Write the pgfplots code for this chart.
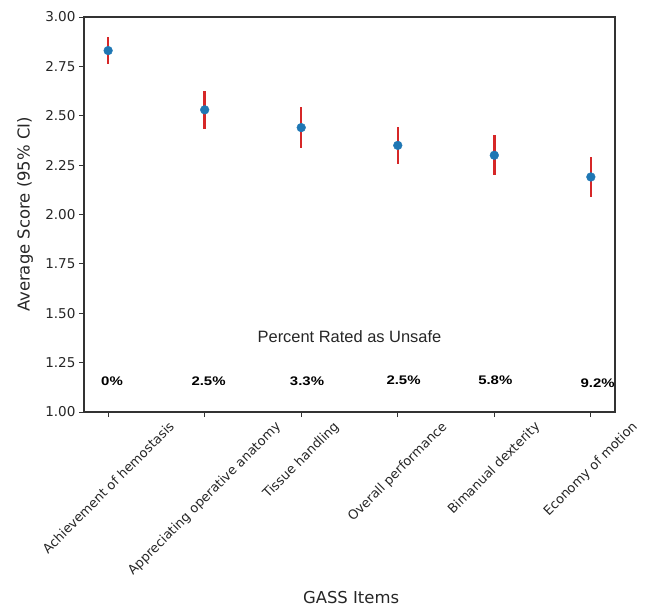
\documentclass[border=0pt]{standalone}
\usepackage{fontspec}
\setmainfont{DejaVu Sans}
\newfontfamily\arialfont{Liberation Sans}
\usepackage{graphicx}
\usepackage{pgfplots}
\pgfplotsset{compat=1.18}
\definecolor{mblue}{HTML}{1F77B4}
\definecolor{mred}{HTML}{D62728}
\definecolor{axgray}{HTML}{333333}

\pgfplotstableread{
x y e
0 2.83 0.067
1 2.53 0.095
2 2.44 0.102
3 2.35 0.095
4 2.30 0.100
5 2.19 0.100
}\scores

\begin{document}
\begin{tikzpicture}
\path[use as bounding box] (-84bp,-196bp) rectangle (563bp,412bp);
\begin{axis}[
  scale only axis, width=531bp, height=395bp,
  xmin=-0.25, xmax=5.25, ymin=1, ymax=3,
  xtick={0,1,2,3,4,5},
  xticklabels={{\rotatebox{45}{Achievement of hemostasis}},
               {\rotatebox{45}{Appreciating operative anatomy}},
               {\rotatebox{45}{Tissue handling}},
               {\rotatebox{45}{Overall performance}},
               {\rotatebox{45}{Bimanual dexterity}},
               {\rotatebox{45}{Economy of motion}}},
  ytick={1.00,1.25,1.50,1.75,2.00,2.25,2.50,2.75,3.00},
  yticklabel style={font=\fontsize{13.6}{16}\selectfont, text=black!85,
    /pgf/number format/.cd, fixed, fixed zerofill, precision=2},
  /pgf/number format/assume math mode=true,
  tick pos=left, tick align=outside,
  major tick length=5bp,
  tick style={axgray, line width=0.9bp},
  axis line style={axgray, line width=1.2bp},
  xticklabel style={anchor=north, font=\fontsize{13}{15}\selectfont, text=black!85},
  xlabel={GASS Items},
  ylabel={Average Score (95\% CI)},
  xlabel style={at={(axis description cs:0.503,-0.470)}, anchor=center, font=\fontsize{16.5}{19}\selectfont, text=black!85},
  ylabel style={at={(axis description cs:-0.111,0.5)}, anchor=center, font=\fontsize{16.5}{19}\selectfont, text=black!85},
]
\addplot[only marks, mark=*, mark size=4.4pt, mark options={fill=mblue, draw=mblue},
  error bars/.cd, y dir=both, y explicit, error mark=none,
  error bar style={line width=2.5bp, mred}]
  table[x=x, y=y, y error=e] {\scores};

\node[font=\arialfont\fontsize{16.5}{19}\selectfont, text=black!85] at (axis cs:2.5,1.38) {Percent Rated as Unsafe};
\node[font=\arialfont\bfseries\fontsize{12.5}{15}\selectfont] at (axis cs:0.04,1.155) {\scalebox{1.2}[1]{0\%}};
\node[font=\arialfont\bfseries\fontsize{12.5}{15}\selectfont] at (axis cs:1.04,1.157) {\scalebox{1.2}[1]{2.5\%}};
\node[font=\arialfont\bfseries\fontsize{12.5}{15}\selectfont] at (axis cs:2.06,1.155) {\scalebox{1.2}[1]{3.3\%}};
\node[font=\arialfont\bfseries\fontsize{12.5}{15}\selectfont] at (axis cs:3.06,1.162) {\scalebox{1.2}[1]{2.5\%}};
\node[font=\arialfont\bfseries\fontsize{12.5}{15}\selectfont] at (axis cs:4.01,1.160) {\scalebox{1.2}[1]{5.8\%}};
\node[font=\arialfont\bfseries\fontsize{12.5}{15}\selectfont] at (axis cs:5.07,1.147) {\scalebox{1.2}[1]{9.2\%}};
\end{axis}
\end{tikzpicture}
\end{document}
